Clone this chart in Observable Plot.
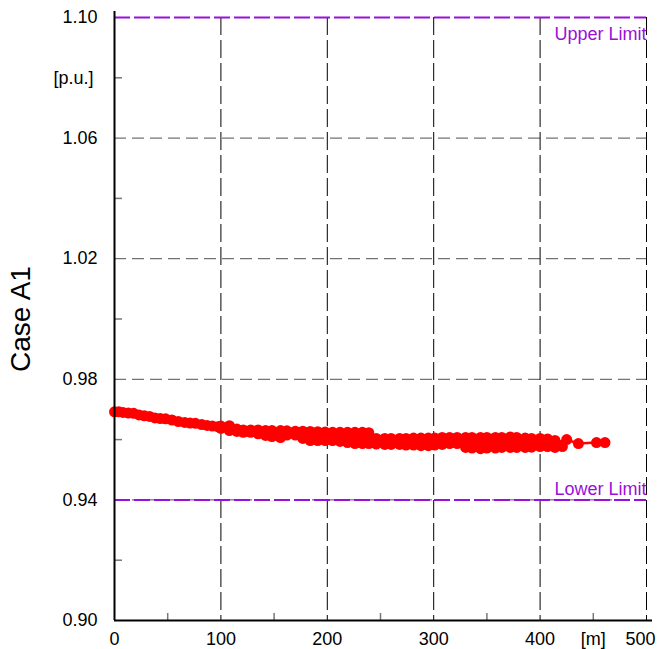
<!DOCTYPE html>
<html>
<head>
<meta charset="utf-8">
<script src="https://cdn.jsdelivr.net/npm/d3@7"></script>
<script src="https://cdn.jsdelivr.net/npm/@observablehq/plot@0.6"></script>
<style>
  html, body { margin: 0; padding: 0; background: #fff; }
</style>
</head>
<body>
<div id="chart"></div>
<script>
// ---- data ----
const trunkDist = [0,4,8,13,18,23,28,33,38,43,48,54,60,66,71,76,82,87,92,97];
const trunkVolt = [0.9692,0.9692,0.9690,0.9688,0.9687,0.9682,0.9679,0.9677,0.9672,0.9670,0.9669,0.9665,0.9660,0.9657,0.9655,0.9654,0.9650,0.9647,0.9645,0.9643];

const upperDist = [100,108,115,121,128,135,142,148,156,162,170,177,184,191,198,205,212,219,226,233,239,246,254,260,268,274,281,288,295,301,308,315,322,330,336,344,350,358,364,372,378,386,392,400,407,414];
const upperVolt = [0.9645,0.9646,0.9635,0.9632,0.9632,0.9632,0.9630,0.9630,0.9630,0.9629,0.9628,0.9628,0.9627,0.9626,0.9625,0.9624,0.9624,0.9624,0.9624,0.9624,0.9623,0.9604,0.9604,0.9604,0.9604,0.9604,0.9605,0.9605,0.9605,0.9605,0.9607,0.9607,0.9607,0.9607,0.9607,0.9607,0.9607,0.9607,0.9607,0.9609,0.9607,0.9605,0.9604,0.9604,0.9602,0.9597];

const lowerDist = [100,108,115,121,128,135,142,148,156,162,170,177,184,191,198,205,212,219,226,233,239,246,254,260,268,274,281,288,295,301,308,315,322,330,336,344,350,358,364,372,378,386,392,400,407,414,421];
const lowerVolt = [0.9637,0.9630,0.9627,0.9624,0.9624,0.9619,0.9614,0.9610,0.9607,0.9615,0.9615,0.9604,0.9597,0.9597,0.9597,0.9597,0.9594,0.9590,0.9587,0.9587,0.9587,0.9585,0.9584,0.9584,0.9584,0.9582,0.9582,0.9580,0.9580,0.9582,0.9584,0.9587,0.9587,0.9574,0.9572,0.9570,0.9572,0.9572,0.9574,0.9574,0.9574,0.9574,0.9575,0.9577,0.9577,0.9574,0.9577];

const middleDist = [145,152,159,166,174,181,188,195,202,209,216,223,230,237,243,250,257,264,271,278,285,292,298,305,312,319,326,333,340,347,354,361,368,375,382,389,396,403,410];
const middleVolt = [0.9620,0.9619,0.9622,0.9622,0.9617,0.9612,0.9612,0.9610,0.9610,0.9609,0.9607,0.9607,0.9605,0.9605,0.9597,0.9594,0.9594,0.9594,0.9594,0.9593,0.9594,0.9594,0.9594,0.9595,0.9597,0.9597,0.9594,0.9590,0.9589,0.9589,0.9590,0.9590,0.9590,0.9590,0.9590,0.9590,0.9590,0.9590,0.9590];

const tailDist = [414,425,436,453,461];
const tailVolt = [0.9590,0.9600,0.9587,0.9590,0.9590];

const xGrid = [100,200,300,400,500];
const yGrid = [0.94,0.98,1.02,1.06];
const xMinor = [50,150,250,350,450];
const yMinor = [0.92,0.96,1.00,1.04,1.08];
const xTickValues = [0,100,200,300,400,450];
const xTickLabels = ["0","100","200","300","400","[m]"];
const xLastTick = [500];
const xLastLabel = ["500"];
const yTickValues = [0.90,0.94,0.98,1.02,1.06,1.10];
const yTickLabels = ["0.90","0.94","0.98","1.02","1.06","1.10"];
const yUnitTick = [1.08];
const yUnitLabel = ["[p.u.]"];
const upperLimit = [1.10];
const lowerLimit = [0.94];
const upperLabel = ["Upper Limit"];
const lowerLabel = ["Lower Limit"];
const yTitle = ["Case A1"];

// ---- build tables ----
const pts = [];
function addSeries(ds, vs, name) { ds.forEach((d, i) => pts.push({d, v: vs[i], s: name})); }
addSeries(trunkDist, trunkVolt, "trunk");
addSeries(upperDist, upperVolt, "upper");
addSeries(lowerDist, lowerVolt, "lower");
addSeries(middleDist, middleVolt, "middle");
addSeries(tailDist, tailVolt, "tail");
const tail = tailDist.map((d, i) => ({d, v: tailVolt[i]}));
const xTicks = xTickValues.map((x, i) => ({x, t: xTickLabels[i]}));
const yTicks = yTickValues.map((y, i) => ({y, t: yTickLabels[i]}));

const purple = "#9a10d8";
const W = 663, H = 649, ML = 114, MR = 17, MT = 17, MB = 29;
const plotW = W - ML - MR, plotH = H - MT - MB;

const chart = Plot.plot({
  width: W, height: H,
  marginLeft: ML, marginRight: MR, marginTop: MT, marginBottom: MB,
  x: {domain: [0, 500], axis: null},
  y: {domain: [0.90, 1.10], axis: null},
  style: {fontFamily: "'Liberation Sans', Arial, sans-serif", fontSize: "18px", background: "white", color: "black", overflow: "visible"},
  marks: [
    Plot.ruleY(yGrid, {stroke: "#505050", strokeWidth: 1, strokeDasharray: "12,6"}),
    Plot.ruleX(xGrid, {stroke: "black", strokeWidth: 1, strokeDasharray: "18,5"}),
    Plot.ruleY(upperLimit, {stroke: purple, strokeWidth: 2, strokeDasharray: "16,4"}),
    Plot.ruleY(lowerLimit, {stroke: purple, strokeWidth: 2, strokeDasharray: "16,4"}),
    Plot.text(upperLabel, {x: 500, y: upperLimit[0], text: d => d, textAnchor: "end", dy: 17, fill: purple, fontSize: 18}),
    Plot.text(lowerLabel, {x: 500, y: lowerLimit[0], text: d => d, textAnchor: "end", dy: -11, fill: purple, fontSize: 18}),
    Plot.line(tail, {x: "d", y: "v", stroke: "#ff0000", strokeWidth: 2.5}),
    Plot.dot(pts, {x: "d", y: "v", r: 5.5, fill: "#ff0000", stroke: "none"}),
    // minor ticks
    Plot.tickY(yMinor, {y: d => d, stroke: "#777", strokeWidth: 1.5, insetRight: plotW - 8}),
    Plot.tickX(xMinor, {x: d => d, stroke: "#777", strokeWidth: 1.5, insetTop: plotH - 7}),
    // axis lines
    Plot.ruleX([0], {stroke: "black", strokeWidth: 2, insetTop: -6}),
    Plot.ruleY([0.90], {stroke: "black", strokeWidth: 2, insetRight: -6}),
    // tick labels
    Plot.text(yTicks, {x: 0, y: "y", text: "t", textAnchor: "end", dx: -17, fontSize: 18}),
    Plot.text(yUnitTick, {x: 0, y: d => d, text: (d, i) => yUnitLabel[i], textAnchor: "end", dx: -21, fontSize: 18}),
    Plot.text(xTicks, {x: "x", y: 0.90, text: "t", dy: 19, fontSize: 18}),
    Plot.text(xLastTick, {x: d => d, y: 0.90, text: (d, i) => xLastLabel[i], dy: 19, dx: -6, fontSize: 18}),
    // y title
    Plot.text(yTitle, {frameAnchor: "left", textAnchor: "middle", text: d => d, rotate: -90, dx: -93, fontSize: 28})
  ]
});
document.getElementById("chart").appendChild(chart);
</script>
</body>
</html>
